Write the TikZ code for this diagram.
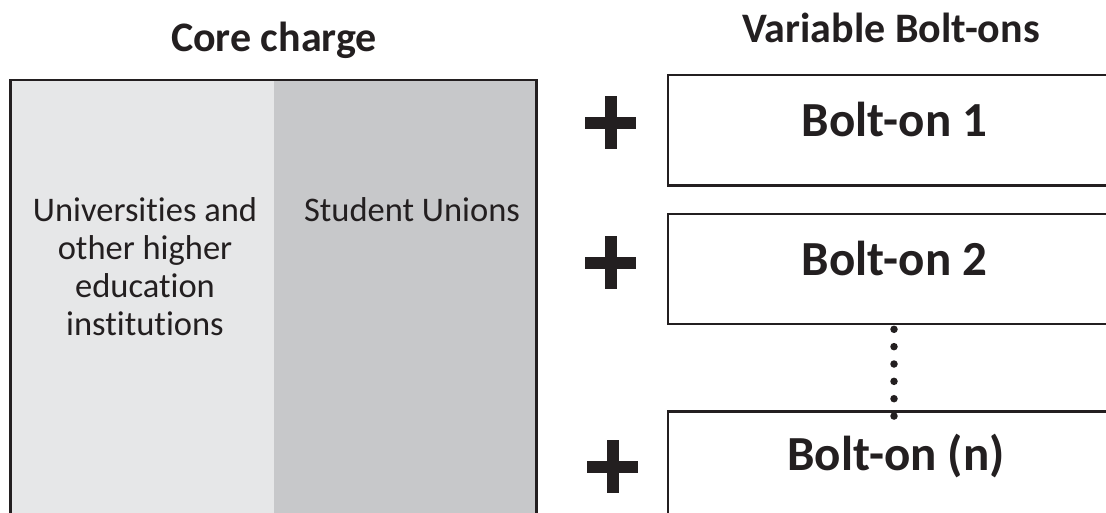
\documentclass[tikz,border=0pt]{standalone}
\usepackage{fontspec}
\setmainfont{Carlito}[Ligatures=NoCommon]
\definecolor{ink}{HTML}{231F20}
\definecolor{lightcol}{HTML}{E6E7E8}
\definecolor{darkcol}{HTML}{C7C8CA}
\begin{document}
\begin{tikzpicture}[x=1pt,y=-1pt,
  title/.style={font=\fontsize{42}{50}\selectfont\bfseries, text=ink, anchor=base, inner sep=0},
  boltlabel/.style={font=\fontsize{49}{58}\selectfont\bfseries, text=ink, anchor=base, inner sep=0},
  body/.style={font=\fontsize{34.5}{38}\selectfont, text=ink, align=center, anchor=base, inner sep=0},
  panel/.style={rectangle, inner sep=0, outer sep=0, minimum height=440pt, anchor=north west},
  boltbox/.style={rectangle, draw=ink, line width=2.3pt, fill=white, minimum width=452pt, outer sep=0, inner sep=0},
  frame/.style={draw=ink, line width=2.8pt},
  plussign/.pic={\fill[ink] (-25.5,-6) rectangle (25.5,6); \fill[ink] (-6,-26.5) rectangle (6,26.5);},
  dotline/.style={draw=ink, line width=7.5pt, line cap=round, dash pattern=on 0pt off 17.35pt}
]
\clip (0,0) rectangle (1106,512);
\fill[white] (0,0) rectangle (1106,512);
% titles
\node[title] (coretitle) at (274,51.7) {Core charge};
\node[title] (vartitle) at (891,42.3) {Variable Bolt-ons};
% core charge panel
\node[panel, fill=lightcol, minimum width=263.5pt] (uni) at (10.5,80) {};
\node[panel, fill=darkcol, minimum width=262.5pt] (su) at (274,80) {};
\draw[frame] (uni.south west) -- (uni.north west) -- (su.north east) -- (su.south east);
\node[body] (unitext) at (145,335) {Universities and\\other higher\\education\\institutions};
\node[body] (sutext) at (412,221) {Student Unions};
% bolt-on boxes
\node[boltbox, minimum height=110.5pt] (box1) at (894,130.25) {};
\node[boltbox, minimum height=110pt] (box2) at (894,269) {};
\node[boltbox, minimum height=200pt] (boxn) at (894,511.5) {};
\node[boltlabel] (lab1) at (894.5,136) {Bolt-on 1};
\node[boltlabel] (lab2) at (894.5,275) {Bolt-on 2};
\node[boltlabel] (labn) at (896,470) {Bolt-on (n)};
% plus signs
\pic at (610.5,122.5) {plussign};
\pic at (610.5,262.5) {plussign};
\pic at (612.5,466.7) {plussign};
% dotted continuation
\draw[dotline] ([yshift=-5.3pt]box2.south) -- ([yshift=-4.6pt]boxn.north);
\end{tikzpicture}
\end{document}
